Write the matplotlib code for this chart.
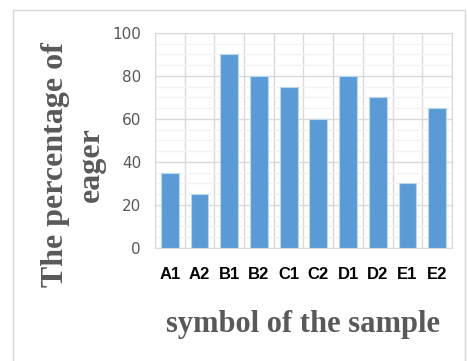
import matplotlib.pyplot as plt
from matplotlib.patches import Rectangle
from matplotlib.ticker import MultipleLocator

samples = ['A1', 'A2', 'B1', 'B2', 'C1', 'C2', 'D1', 'D2', 'E1', 'E2']
eager = [35, 25, 90, 80, 75, 60, 80, 70, 30, 65]

fig = plt.figure(figsize=(4.68, 3.61), dpi=100)
ax = fig.add_axes([0.331, 0.313, 0.635, 0.596])

# outer chart frame
fig.patches.append(Rectangle((13 / 468, -0.05), (465 - 13) / 468, 1.05 - 10 / 361,
                             transform=fig.transFigure, fill=False,
                             edgecolor='#D9D9D9', linewidth=1))

x = range(len(samples))
ax.bar(x, eager, width=0.6, color='#5B9BD5', edgecolor='#BDD7EE', linewidth=0.8, zorder=3)

ax.set_xlim(-0.5, len(samples) - 0.5)
ax.set_ylim(0, 100)
ax.yaxis.set_major_locator(MultipleLocator(20))
ax.yaxis.set_minor_locator(MultipleLocator(5))
ax.set_xticks(list(x))
ax.set_xticklabels(samples, fontfamily='Liberation Sans', fontweight='bold', fontsize=12)
ax.set_xticks([i + 0.5 for i in range(-1, len(samples))], minor=True)

ax.grid(which='major', axis='y', color='#D9D9D9', linewidth=1, zorder=0)
ax.grid(which='minor', axis='y', color='#F2F2F2', linewidth=1, zorder=0)
ax.grid(which='minor', axis='x', color='#D9D9D9', linewidth=1, zorder=0)
for s in ax.spines.values():
    s.set_color('#D9D9D9')
ax.tick_params(axis='both', which='both', length=0)
ax.tick_params(axis='y', labelcolor='#595959', labelsize=11, pad=10)
ax.tick_params(axis='x', pad=14)

ax.set_ylabel('The percentage of\neager', fontfamily='Liberation Serif', fontweight='bold',
              fontsize=23, color='#595959', linespacing=1.3)
ax.yaxis.set_label_coords(-0.165, 0.39)
ax.set_xlabel('symbol of the sample', fontfamily='Liberation Serif', fontweight='bold',
              fontsize=22, color='#595959')
ax.xaxis.set_label_coords(0.50, -0.29)

fig.savefig('out.png', dpi=100)
